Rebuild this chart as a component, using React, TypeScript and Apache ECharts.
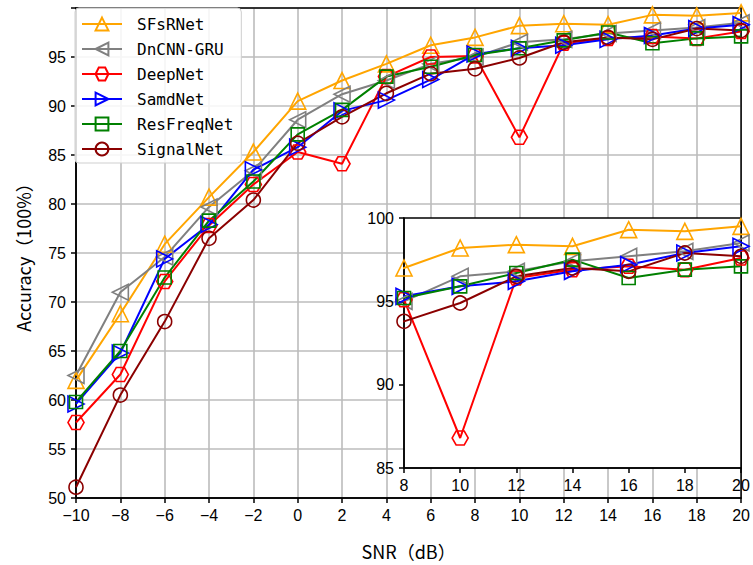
import React, { useEffect, useRef } from "react";
import * as echarts from "echarts";

const snr = [-10, -8, -6, -4, -2, 0, 2, 4, 6, 8, 10, 12, 14, 16, 18, 20];

const sfsrnet = [62.0, 68.8, 75.9, 80.7, 85.3, 90.5, 92.6, 94.3, 96.2, 97.0, 98.2, 98.4, 98.3, 99.3, 99.2, 99.5];
const dncnnGru = [62.5, 71.0, 74.6, 79.7, 83.4, 88.6, 91.2, 92.6, 94.3, 95.0, 96.5, 96.8, 97.4, 97.7, 98.0, 98.5];
const deepNet = [57.7, 62.6, 72.1, 77.8, 82.0, 85.3, 84.1, 93.0, 95.0, 95.1, 86.8, 96.4, 96.9, 97.1, 96.9, 97.6];
const samdNet = [59.6, 64.8, 74.4, 77.9, 83.5, 85.8, 89.5, 90.6, 92.7, 95.3, 95.9, 96.2, 96.8, 97.2, 97.9, 98.3];
const resFreqNet = [59.8, 65.0, 72.5, 78.3, 82.3, 87.1, 89.6, 93.0, 94.0, 95.2, 95.9, 96.7, 97.5, 96.4, 96.9, 97.1];
const signalNet = [51.1, 60.5, 68.0, 76.5, 80.4, 86.2, 88.9, 91.3, 93.3, 93.8, 94.9, 96.5, 97.0, 96.8, 97.9, 97.7];

const seriesNames = ["SFsRNet", "DnCNN-GRU", "DeepNet", "SamdNet", "ResFreqNet", "SignalNet"];
const seriesValues = [sfsrnet, dncnnGru, deepNet, samdNet, resFreqNet, signalNet];
const seriesColors = ["#FFA500", "#808080", "#FF0000", "#0000FF", "#008000", "#8B0000"];

const HEX = "path://M0,5 L2.5,0.67 L7.5,0.67 L10,5 L7.5,9.33 L2.5,9.33 Z";
const symbols = ["triangle", "triangle", HEX, "triangle", "rect", "circle"];
const symbolRotates = [0, 90, 0, -90, 0, 0];
const symbolSizes: any[] = [16, 16, [16, 14], 16, 13, 14];

const fmtNum = (v: number) => (v < 0 ? "\u2212" + Math.abs(v) : String(v));

export default function App() {
  const ref = useRef<HTMLDivElement>(null);
  useEffect(() => {
    if (!ref.current) return;
    const chart = echarts.init(ref.current, undefined, { renderer: "svg" });
    const tickFont = { fontFamily: "Liberation Sans", fontSize: 16, color: "#000" };
    const axisLine = { show: true, onZero: false, lineStyle: { color: "#000", width: 1.5 } };
    const axisTick = { show: true, length: 5, lineStyle: { color: "#000", width: 1.5 } };

    const makeSeries = (inset: boolean) =>
      seriesNames.map((name, i) => ({
        name,
        type: "line",
        xAxisIndex: inset ? 1 : 0,
        yAxisIndex: inset ? 1 : 0,
        data: snr.map((x, j) => [x, seriesValues[i][j]]),
        symbol: symbols[i],
        symbolRotate: symbolRotates[i],
        symbolSize: symbolSizes[i],
        showAllSymbol: true,
        clip: true,
        z: inset ? 7 : 2,
        lineStyle: { color: seriesColors[i], width: 2 },
        itemStyle: { color: "rgba(0,0,0,0)", borderColor: seriesColors[i], borderWidth: 1.6 },
        emphasis: { disabled: true },
      }));

    chart.setOption({
      animation: false,
      backgroundColor: "#fff",
      grid: [
        {
          left: 76, right: 7, top: 8, bottom: 57,
          show: true, borderColor: "#000", borderWidth: 1.5, backgroundColor: "rgba(0,0,0,0)", z: 1,
        },
        {
          left: 404, right: 12, top: 218, bottom: 97,
          show: true, borderColor: "#000", borderWidth: 1.5, backgroundColor: "#fff", z: 5,
        },
      ],
      xAxis: [
        {
          type: "value", gridIndex: 0, min: -10, max: 20, interval: 2,
          name: "SNR\uFF08dB\uFF09", nameLocation: "middle", nameGap: 44,
          nameTextStyle: { fontFamily: "Noto Sans CJK SC", fontSize: 18, color: "#000" },
          axisLine, axisTick,
          axisLabel: { ...tickFont, margin: 9, formatter: fmtNum },
          splitLine: { show: true, lineStyle: { color: "#bcbcbc", width: 1.6 } },
        },
        {
          type: "value", gridIndex: 1, min: 8, max: 20, interval: 2, z: 6,
          axisLine, axisTick,
          axisLabel: { ...tickFont, margin: 9, formatter: fmtNum },
          splitLine: { show: false },
        },
      ],
      yAxis: [
        {
          type: "value", gridIndex: 0, min: 50, max: 100, interval: 5,
          name: "Accuracy\uFF08100%\uFF09", nameLocation: "middle", nameGap: 44,
          nameTextStyle: { fontFamily: "Noto Sans CJK SC", fontSize: 18, color: "#000" },
          axisLine, axisTick,
          axisLabel: { ...tickFont, margin: 10, formatter: (v: number) => (v >= 100 ? "" : fmtNum(v)) },
          splitLine: { show: true, lineStyle: { color: "#bcbcbc", width: 1.6 } },
        },
        {
          type: "value", gridIndex: 1, min: 85, max: 100, interval: 5, z: 6,
          axisLine, axisTick,
          axisLabel: { ...tickFont, margin: 10, formatter: fmtNum },
          splitLine: { show: false },
        },
      ],
      legend: {
        data: seriesNames,
        orient: "vertical",
        left: 75,
        top: 8,
        padding: [8, 8, 6, 6],
        itemWidth: 40,
        itemHeight: 16,
        itemGap: 9,
        z: 10,
        borderColor: "#cfcfcf",
        borderWidth: 1,
        borderRadius: 4,
        backgroundColor: "rgba(255,255,255,0.85)",
        textStyle: { fontFamily: "DejaVu Sans Mono", fontSize: 16, color: "#000", padding: [0, 0, 0, 10] },
        selectedMode: false,
      },
      series: [...makeSeries(false), ...makeSeries(true)],
    });
    return () => chart.dispose();
  }, []);
  return <div ref={ref} style={{ width: 753, height: 565, position: "absolute", left: 0, top: 0 }} />;
}
